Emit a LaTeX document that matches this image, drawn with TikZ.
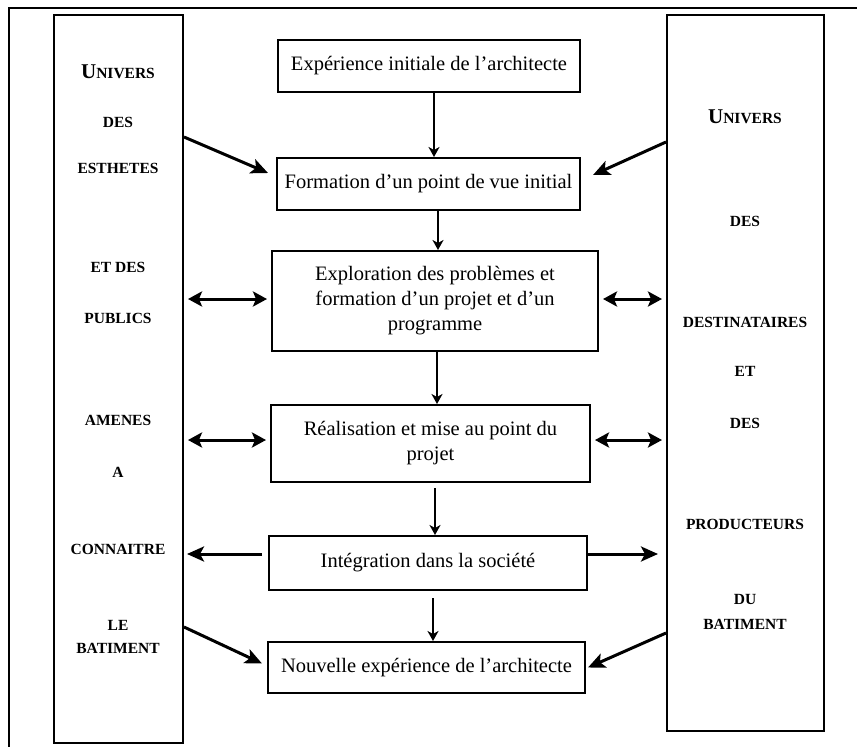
\documentclass[tikz,border=0pt]{standalone}
\usepackage{fontspec}
\setmainfont{Liberation Serif}
\usetikzlibrary{arrows.meta,calc}
\newcommand\myuniv{{\fontsize{21}{21}\selectfont U}NIVERS}
\begin{document}
\begin{tikzpicture}[x=1pt,y=-1pt,
  box/.style={draw,line width=2pt,inner sep=0pt,align=center,font=\fontsize{20.5}{25}\selectfont},
  side/.style={draw,line width=2pt,inner sep=0pt},
  word/.style={inner sep=0pt,font=\fontsize{15.5}{17}\selectfont\bfseries},
  big/.style={line width=3pt,-{Stealth[length=17pt,width=15pt,inset=4pt]}},
  dbl/.style={line width=3pt,{Stealth[length=14pt,width=15pt,inset=3pt]}-{Stealth[length=14pt,width=15pt,inset=3pt]},shorten <=4pt,shorten >=4pt},
  down/.style={line width=2pt,-{Stealth[length=10pt,width=11pt,inset=3pt]}}]
\useasboundingbox (0,0) rectangle (857,747);
\draw[line width=2pt] (9,747) -- (9,8) -- (857,8);

% side boxes
\node[side,minimum width=129pt,minimum height=728pt] (L) at (118.5,379) {};
\node[side,minimum width=157pt,minimum height=716pt] (R) at (745.5,373) {};

% left words
\node[word] (l1) at (118,72) {\myuniv};
\node[word] (l2) at (118,122) {DES};
\node[word] (l3) at (118,168) {ESTHETES};
\node[word] (l4) at (118,267) {ET DES};
\node[word] (l5) at (118,318) {PUBLICS};
\node[word] (l6) at (118,420) {AMENES};
\node[word] (l7) at (118,472) {A};
\node[word] (l8) at (118,549) {CONNAITRE};
\node[word] (l9) at (118,625) {LE};
\node[word] (l10) at (118,648) {BATIMENT};

% right words
\node[word] (r1) at (745,117) {\myuniv};
\node[word] (r2) at (745,221) {DES};
\node[word] (r3) at (745,322) {DESTINATAIRES};
\node[word] (r4) at (745,371) {ET};
\node[word] (r5) at (745,423) {DES};
\node[word] (r6) at (745,524) {PRODUCTEURS};
\node[word] (r7) at (745,599) {DU};
\node[word] (r8) at (745,624) {BATIMENT};

% central boxes
\node[box,minimum width=302pt,minimum height=52pt] (B1) at (429,66) {Expérience initiale de l'architecte};
\node[box,minimum width=303pt,minimum height=52pt] (B2) at (428.5,184) {Formation d'un point de vue initial};
\node[box,minimum width=326pt,minimum height=100pt] (B3) at (435,301) {Exploration des problèmes et\\formation d'un projet et d'un\\programme};
\node[box,minimum width=319pt,minimum height=77pt] (B4) at (430.5,443.5) {Réalisation et mise au point du\\projet};
\node[box,minimum width=318pt,minimum height=54pt] (B5) at (428,563) {Intégration dans la société};
\node[box,minimum width=317pt,minimum height=51pt] (B6) at (426.5,667.5) {Nouvelle expérience de l'architecte};

% vertical arrows
\draw[down] (B1.south -| 434,0) -- (B2.north -| 434,0);
\draw[down] (B2.south -| 438,0) -- (B3.north -| 438,0);
\draw[down] (B3.south -| 437,0) -- (B4.north -| 437,0);
\draw[down,shorten <=5pt] (B4.south -| 435,0) -- (B5.north -| 435,0);
\draw[down,shorten <=7pt] (B5.south -| 433,0) -- (B6.north -| 433,0);

% to box 2
\draw[big] (L.east |- 0,137) -- ($(B2.west)+(-8,-11)$);
\draw[big] (R.west |- 0,142) -- ($(B2.east)+(12,-9)$);

% box 3 and box 4 exchanges
\draw[dbl] (L.east |- 0,299) -- (B3.west |- 0,299);
\draw[dbl] (B3.east |- 0,299) -- (R.west |- 0,299);
\draw[dbl] (L.east |- 0,440) -- (B4.west |- 0,440);
\draw[dbl] (B4.east |- 0,440) -- (R.west |- 0,440);

% box 5 outwards
\draw[big,shorten <=6pt,shorten >=3pt] (B5.west |- 0,554) -- (L.east |- 0,554);
\draw[big,shorten >=8pt] (B5.east |- 0,554) -- (R.west |- 0,554);

% to box 6
\draw[big] (L.east |- 0,627) -- ($(B6.west)+(-5,-4)$);
\draw[big] (R.west |- 0,633) -- ($(B6.east)+(2,0)$);
\end{tikzpicture}
\end{document}
